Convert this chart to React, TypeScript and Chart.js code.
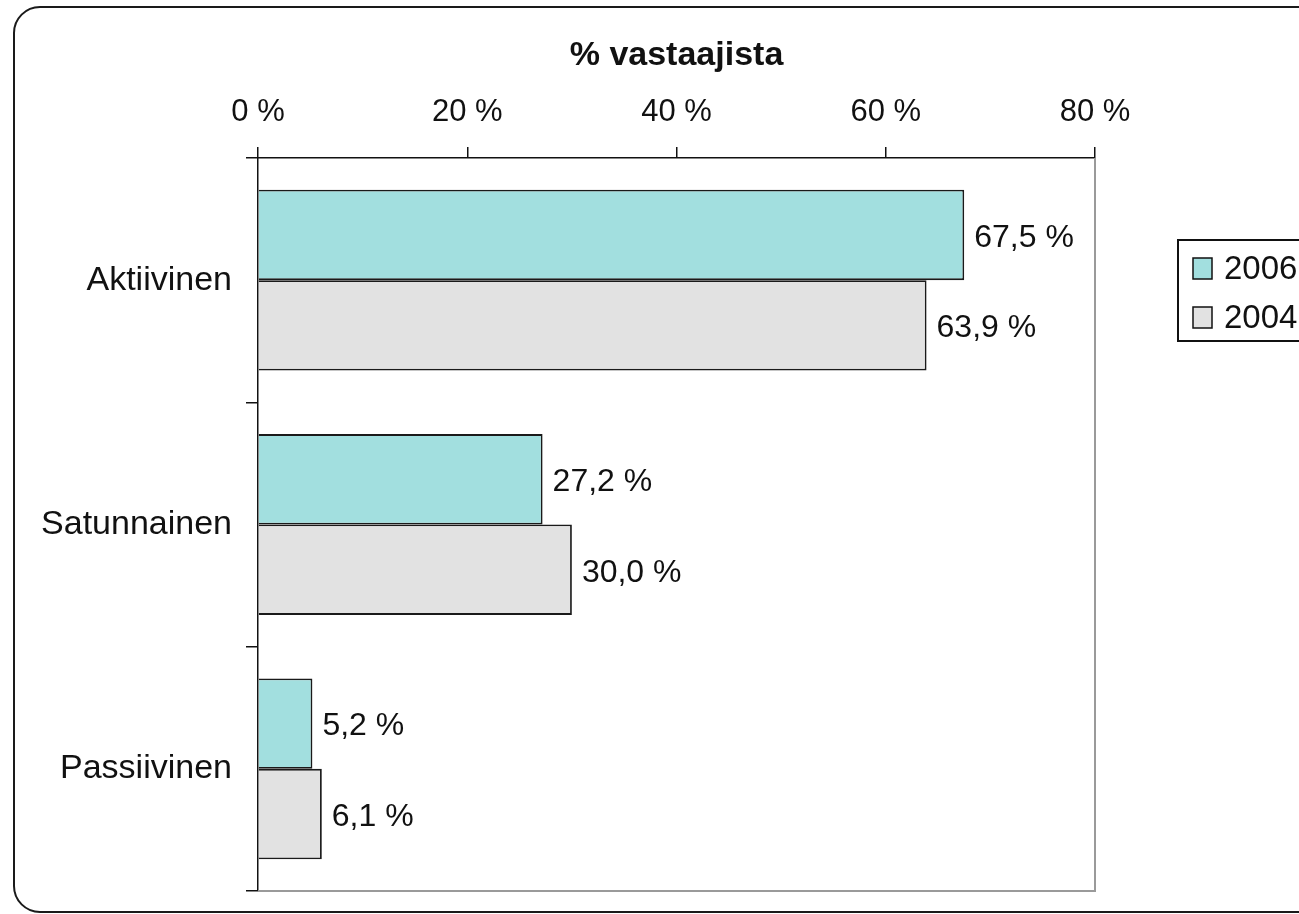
import React, { useEffect, useRef } from "react";
import { Chart, registerables } from "chart.js";

Chart.register(...registerables);

const categories = ["Aktiivinen", "Satunnainen", "Passiivinen"];
const seriesNames = ["2006", "2004"];
const values2006 = [67.5, 27.2, 5.2];
const values2004 = [63.9, 30.0, 6.1];
const tickValues = [0, 20, 40, 60, 80];
const axisTitle = "% vastaajista";

const colors = ["#A2DFDF", "#E2E2E2"];
const FONT = "'Liberation Sans', Arial, sans-serif";

const fmt = (v: number) => v.toFixed(1).replace(".", ",") + " %";

export default function App() {
  const ref = useRef<HTMLCanvasElement | null>(null);

  useEffect(() => {
    if (!ref.current) return;

    const framePlugin = {
      id: "frame",
      beforeDraw(chart: any) {
        const ctx = chart.ctx;
        ctx.save();
        ctx.fillStyle = "#ffffff";
        ctx.fillRect(0, 0, chart.width, chart.height);
        ctx.strokeStyle = "#1a1a1a";
        ctx.lineWidth = 2;
        ctx.beginPath();
        ctx.roundRect(14, 7, 1340, 905, 26);
        ctx.stroke();
        ctx.restore();
      },
      beforeDatasetsDraw(chart: any) {
        const { ctx, chartArea: a } = chart;
        ctx.save();
        ctx.strokeStyle = "#9a9a9a";
        ctx.lineWidth = 2;
        ctx.beginPath();
        ctx.moveTo(a.left, a.bottom);
        ctx.lineTo(a.right, a.bottom);
        ctx.lineTo(a.right, a.top);
        ctx.stroke();
        ctx.restore();
      },
      afterDatasetsDraw(chart: any) {
        const ctx = chart.ctx;
        ctx.save();
        ctx.font = `32px ${FONT}`;
        ctx.fillStyle = "#111";
        ctx.textAlign = "left";
        ctx.textBaseline = "middle";
        chart.data.datasets.forEach((ds: any, di: number) => {
          const meta = chart.getDatasetMeta(di);
          meta.data.forEach((el: any, i: number) => {
            ctx.fillText(fmt(ds.data[i]), el.x + 10, el.y + 3);
          });
        });
        // legend
        const lx = 1178, ly = 240;
        ctx.strokeStyle = "#111";
        ctx.lineWidth = 2;
        ctx.strokeRect(lx, ly, 200, 101);
        seriesNames.forEach((name, i) => {
          const sy = 258 + i * 49;
          ctx.fillStyle = colors[i];
          ctx.fillRect(1193, sy, 19, 21);
          ctx.lineWidth = 1.5;
          ctx.strokeStyle = "#111";
          ctx.strokeRect(1193, sy, 19, 21);
          ctx.fillStyle = "#111";
          ctx.font = `33px ${FONT}`;
          ctx.fillText(name, 1224, sy + 12);
        });
        ctx.restore();
      },
    };

    const chart = new Chart(ref.current, {
      type: "bar",
      data: {
        labels: categories,
        datasets: [
          {
            label: seriesNames[0],
            data: values2006,
            backgroundColor: colors[0],
            borderColor: "#1a1a1a",
            borderWidth: 1.8,
            borderSkipped: "start",
            categoryPercentage: 0.74,
            barPercentage: 1,
          },
          {
            label: seriesNames[1],
            data: values2004,
            backgroundColor: colors[1],
            borderColor: "#1a1a1a",
            borderWidth: 1.8,
            borderSkipped: "start",
            categoryPercentage: 0.74,
            barPercentage: 1,
          },
        ],
      },
      options: {
        indexAxis: "y",
        animation: false,
        responsive: true,
        maintainAspectRatio: false,
        layout: { padding: { left: 0, top: 0, right: 204, bottom: 23 } },
        plugins: {
          legend: { display: false },
          tooltip: { enabled: false },
        },
        scales: {
          x: {
            position: "top",
            min: 0,
            max: 80,
            afterFit: (s: any) => {
              s.height = 158;
              s.paddingLeft = 0;
              s.paddingRight = 0;
            },
            afterBuildTicks: (s: any) => {
              s.ticks = tickValues.map((v) => ({ value: v }));
            },
            ticks: {
              callback: (v: any) => v + " %",
              font: { family: FONT, size: 31 },
              color: "#111",
              padding: 16,
              maxRotation: 0,
            },
            grid: {
              drawOnChartArea: false,
              drawTicks: true,
              tickLength: 11,
              color: "#111",
              lineWidth: 1.5,
            },
            border: { display: true, color: "#111", width: 1.5 },
            title: {
              display: true,
              text: axisTitle,
              font: { family: FONT, size: 34, weight: "bold" },
              color: "#111",
              padding: { top: 35, bottom: 0 },
            },
          },
          y: {
            afterFit: (s: any) => {
              s.width = 258;
              s.paddingTop = 0;
              s.paddingBottom = 0;
            },
            ticks: {
              font: { family: FONT, size: 34 },
              color: "#111",
              padding: 14,
            },
            grid: {
              offset: true,
              drawOnChartArea: false,
              drawTicks: true,
              tickLength: 12,
              color: "#111",
              lineWidth: 1.5,
            },
            border: { display: true, color: "#111", width: 1.5 },
          },
        },
      } as any,
      plugins: [framePlugin],
    });

    return () => chart.destroy();
  }, []);

  return (
    <div
      style={{
        position: "absolute",
        left: 0,
        top: 0,
        width: 1299,
        height: 914,
        overflow: "hidden",
        background: "#fff",
      }}
    >
      <canvas ref={ref} />
    </div>
  );
}
